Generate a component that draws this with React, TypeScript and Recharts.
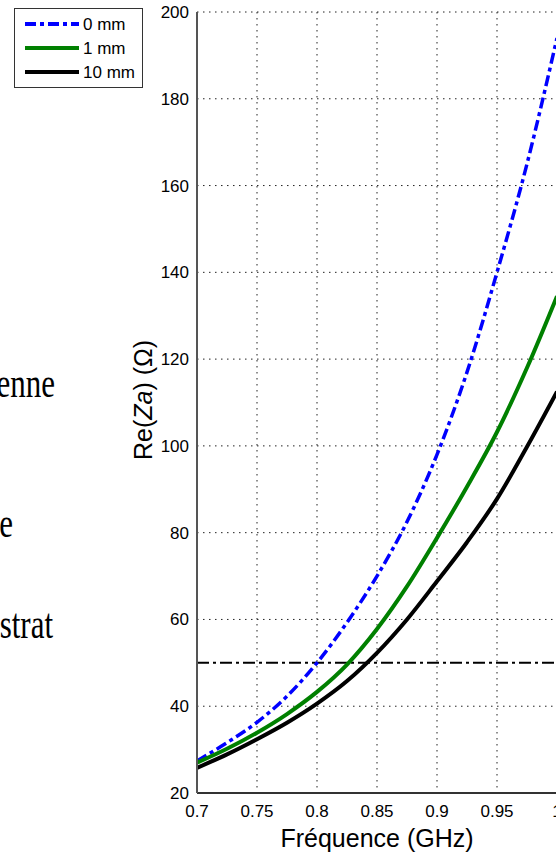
import React from 'react';
import {
  LineChart,
  Line,
  XAxis,
  YAxis,
  CartesianGrid,
  ReferenceLine,
  Legend,
} from 'recharts';

// frequency (GHz) and Re(Za) (ohm) for the three substrate gaps
const FREQ = [0.7, 0.725, 0.75, 0.775, 0.8, 0.825, 0.85, 0.875, 0.9, 0.925, 0.95, 0.975, 1.0];
const RE_0MM = [27.4, 31.6, 36.3, 42.3, 50, 59.3, 70, 82.5, 98, 117, 140, 165, 194];
const RE_1MM = [27, 30.2, 33.9, 38.2, 43.3, 49.6, 57.8, 67.6, 78.8, 90.6, 103.2, 118, 134.5];
const RE_10MM = [25.8, 28.9, 32.4, 36.2, 40.6, 45.8, 52.3, 60, 68.8, 77.8, 87.8, 99.8, 112.5];

const X_TICKS = [0.7, 0.75, 0.8, 0.85, 0.9, 0.95, 1];
const Y_TICKS = [20, 40, 60, 80, 100, 120, 140, 160, 180, 200];
const MATCH_LEVEL = 50;

// cut-off words of the surrounding document text
const SIDE_WORDS = ['enne', 'e', 'strat'];

const SERIES = [
  { key: 'g0', name: '0 mm', color: '#0000ff', dash: '11 4 4 4' },
  { key: 'g1', name: '1 mm', color: '#008000', dash: undefined },
  { key: 'g10', name: '10 mm', color: '#000000', dash: undefined },
];

const data = FREQ.map((f, i) => ({ f, g0: RE_0MM[i], g1: RE_1MM[i], g10: RE_10MM[i] }));

const FONT = '"Liberation Sans", Arial, sans-serif';
const SERIF = '"Liberation Serif", "Times New Roman", serif';

const LegendBox = () => (
  <div style={{ width: 127, height: 78, border: '1px solid #333', background: '#fff' }}>
    <svg width={127} height={78}>
      {SERIES.map((s, i) => (
        <g key={s.key}>
          <line
            x1={10}
            x2={64}
            y1={15 + i * 24}
            y2={15 + i * 24}
            stroke={s.color}
            strokeWidth={4}
            strokeDasharray={s.dash}
          />
          <text x={68} y={21 + i * 24} fontFamily={FONT} fontSize={17} fill="#000">
            {s.name}
          </text>
        </g>
      ))}
    </svg>
  </div>
);

const YLabel = () => (
  <text
    x={152}
    y={400}
    transform="rotate(-90 152 400)"
    textAnchor="middle"
    fontFamily={FONT}
    fontSize={25}
    fill="#000"
  >
    Re(<tspan fontStyle="italic">Za</tspan>) (Ω)
  </text>
);

const SideWord = ({ text, x, y }: { text: string; x: number; y: number }) => (
  <text
    x={x}
    y={y}
    textAnchor="end"
    transform={`translate(0 ${y}) scale(1 1.35) translate(0 ${-y})`}
    fontFamily={SERIF}
    fontSize={31}
    fill="#000"
  >
    {text}
  </text>
);

const App: React.FC = () => {
  return (
    <div style={{ position: 'fixed', left: 0, top: 0, width: 556, height: 854, overflow: 'hidden', background: '#fff' }}>
      <svg style={{ position: 'absolute', left: 0, top: 0 }} width={70} height={854}>
        <SideWord text={SIDE_WORDS[0]} x={55} y={397} />
        <SideWord text={SIDE_WORDS[1]} x={13} y={537} />
        <SideWord text={SIDE_WORDS[2]} x={53} y={638} />
      </svg>
      <div style={{ position: 'absolute', left: 0, top: 0 }}>
        <LineChart width={600} height={854} data={data} margin={{ top: 12, right: 43, bottom: 0, left: 137 }}>
          <CartesianGrid stroke="#222" strokeDasharray="1.5 4.5" />
          <XAxis
            dataKey="f"
            type="number"
            domain={[0.7, 1]}
            ticks={X_TICKS}
            height={61}
            tickLine={false}
            tickMargin={6}
            axisLine={{ stroke: '#333', strokeWidth: 2 }}
            tick={{ fontFamily: FONT, fontSize: 17, fill: '#000' }}
            label={{
              value: 'Fréquence (GHz)',
              position: 'insideBottom',
              offset: 7,
              style: { fontFamily: FONT, fontSize: 25, fill: '#000' },
            }}
          />
          <XAxis
            xAxisId="top"
            dataKey="f"
            type="number"
            orientation="top"
            domain={[0.7, 1]}
            ticks={X_TICKS}
            height={0}
            mirror
            tickSize={5}
            tickFormatter={() => ''}
            tickLine={{ stroke: '#000', strokeWidth: 2 }}
            axisLine={{ stroke: '#000', strokeWidth: 2 }}
          />
          <YAxis
            type="number"
            domain={[20, 200]}
            ticks={Y_TICKS}
            width={60}
            tickLine={false}
            axisLine={{ stroke: '#555', strokeWidth: 2 }}
            tick={{ fontFamily: FONT, fontSize: 17, fill: '#000' }}
            label={{ content: YLabel }}
          />
          <YAxis
            yAxisId="right"
            orientation="right"
            type="number"
            domain={[20, 200]}
            ticks={Y_TICKS}
            width={0}
            mirror
            tickSize={6}
            tickFormatter={() => ''}
            tickLine={{ stroke: '#000', strokeWidth: 2 }}
            axisLine={false}
          />
          <ReferenceLine y={MATCH_LEVEL} stroke="#000" strokeWidth={2} strokeDasharray="12 4 3 4" />
          {SERIES.map((s) => (
            <Line
              key={s.key}
              dataKey={s.key}
              name={s.name}
              type="monotone"
              stroke={s.color}
              strokeWidth={s.key === 'g0' ? 3.5 : 4}
              strokeDasharray={s.dash}
              dot={false}
              activeDot={false}
              isAnimationActive={false}
            />
          ))}
          <Legend
            layout="vertical"
            align="center"
            verticalAlign="middle"
            wrapperStyle={{ left: 14, top: 8, width: 129, height: 80 }}
            content={LegendBox}
          />
        </LineChart>
      </div>
    </div>
  );
};

export default App;
